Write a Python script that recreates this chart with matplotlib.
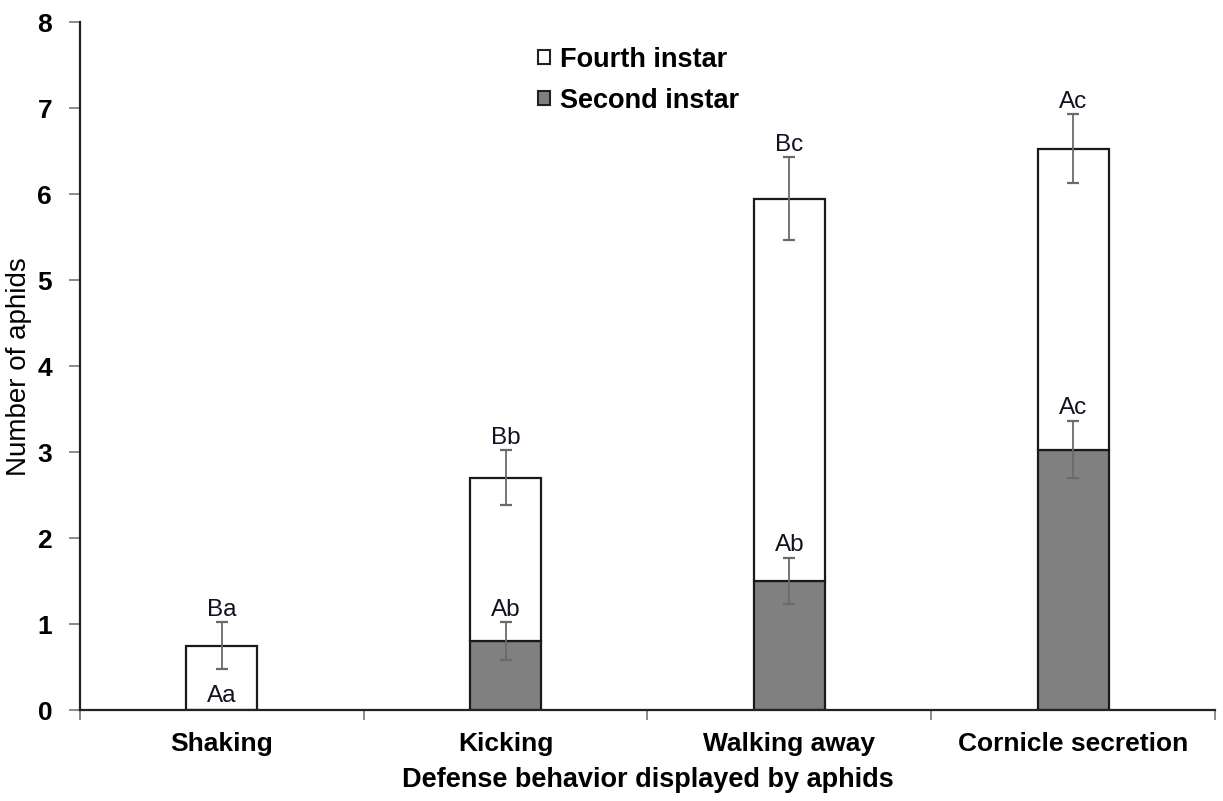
import matplotlib
matplotlib.use("Agg")
import matplotlib.pyplot as plt
import numpy as np
from matplotlib.patches import Patch

plt.rcParams['font.family'] = ['Liberation Sans', 'DejaVu Sans']

behaviors = ["Shaking", "Kicking", "Walking away", "Cornicle secretion"]
second_mean = [0.0, 0.80, 1.50, 3.03]
second_err = [0.0, 0.22, 0.27, 0.33]
fourth_mean = [0.75, 1.90, 4.45, 3.50]   # stacked on top of second instar
total_err = [0.27, 0.32, 0.48, 0.40]
second_letters = ["Aa", "Ab", "Ab", "Ac"]
total_letters = ["Ba", "Bb", "Bc", "Ac"]

fig = plt.figure(figsize=(12.23, 8.01), dpi=100)
ax = fig.add_axes([0.0654, 0.1136, 0.928, 0.8585])

x = np.arange(len(behaviors))
width = 0.25
totals = np.array(second_mean) + np.array(fourth_mean)

ax.bar(x, second_mean, width, color="#808080", edgecolor="#1a1a1a", linewidth=1.6, zorder=2)
ax.bar(x, fourth_mean, width, bottom=second_mean, color="white", edgecolor="#1a1a1a",
       linewidth=1.6, zorder=2)

err_kw = dict(fmt="none", ecolor="#6a6a6a", elinewidth=1.3, capsize=4, capthick=1.6, zorder=3)
mask = np.array(second_mean) > 0
ax.errorbar(x[mask], np.array(second_mean)[mask], yerr=np.array(second_err)[mask], **err_kw)
ax.errorbar(x, totals, yerr=total_err, **err_kw)

ann_kw = dict(ha="center", va="bottom", fontsize=17.5, color="#111122", zorder=4)
for i in range(len(behaviors)):
    ax.text(x[i], totals[i] + total_err[i] + 0.02, total_letters[i], **ann_kw)
    if second_mean[i] > 0:
        ax.text(x[i], second_mean[i] + second_err[i] + 0.02, second_letters[i], **ann_kw)
    else:
        ax.text(x[i], 0.04, second_letters[i], **ann_kw)

ax.set_xlim(-0.5, len(behaviors) - 0.5)
ax.set_ylim(0, 8)
ax.set_yticks(range(0, 9))
ax.set_xticks(x)
ax.set_xticklabels(behaviors, fontsize=19, fontweight="bold")
ax.set_xticks(np.arange(-0.5, len(behaviors)), minor=True)
ax.tick_params(axis="x", which="major", length=0, pad=16)
ax.tick_params(axis="x", which="minor", length=7, width=1.2, color="#777777", direction="out")
ax.tick_params(axis="y", which="major", length=8, width=1.2, color="#777777", direction="out",
               labelsize=19, pad=12)
for lab in ax.get_yticklabels():
    lab.set_fontweight("bold")

for side in ("top", "right"):
    ax.spines[side].set_visible(False)
ax.spines["left"].set_linewidth(1.6)
ax.spines["bottom"].set_linewidth(1.6)
ax.spines["left"].set_color("#222222")
ax.spines["bottom"].set_color("#222222")

ax.set_ylabel("Number of aphids", fontsize=20, labelpad=4)
ax.set_xlabel("Defense behavior displayed by aphids", fontsize=19.5, fontweight="bold", labelpad=8)

handles = [Patch(facecolor="white", edgecolor="#222222", linewidth=1.5, label="Fourth instar"),
           Patch(facecolor="#808080", edgecolor="#222222", linewidth=1.5, label="Second instar")]
ax.legend(handles=handles, loc="upper left", bbox_to_anchor=(0.382, 1.0), frameon=False,
          prop={"size": 19.5, "weight": "bold"}, handlelength=0.45, handleheight=0.45,
          handletextpad=0.35, labelspacing=0.55)

fig.savefig("out.png", dpi=100)
